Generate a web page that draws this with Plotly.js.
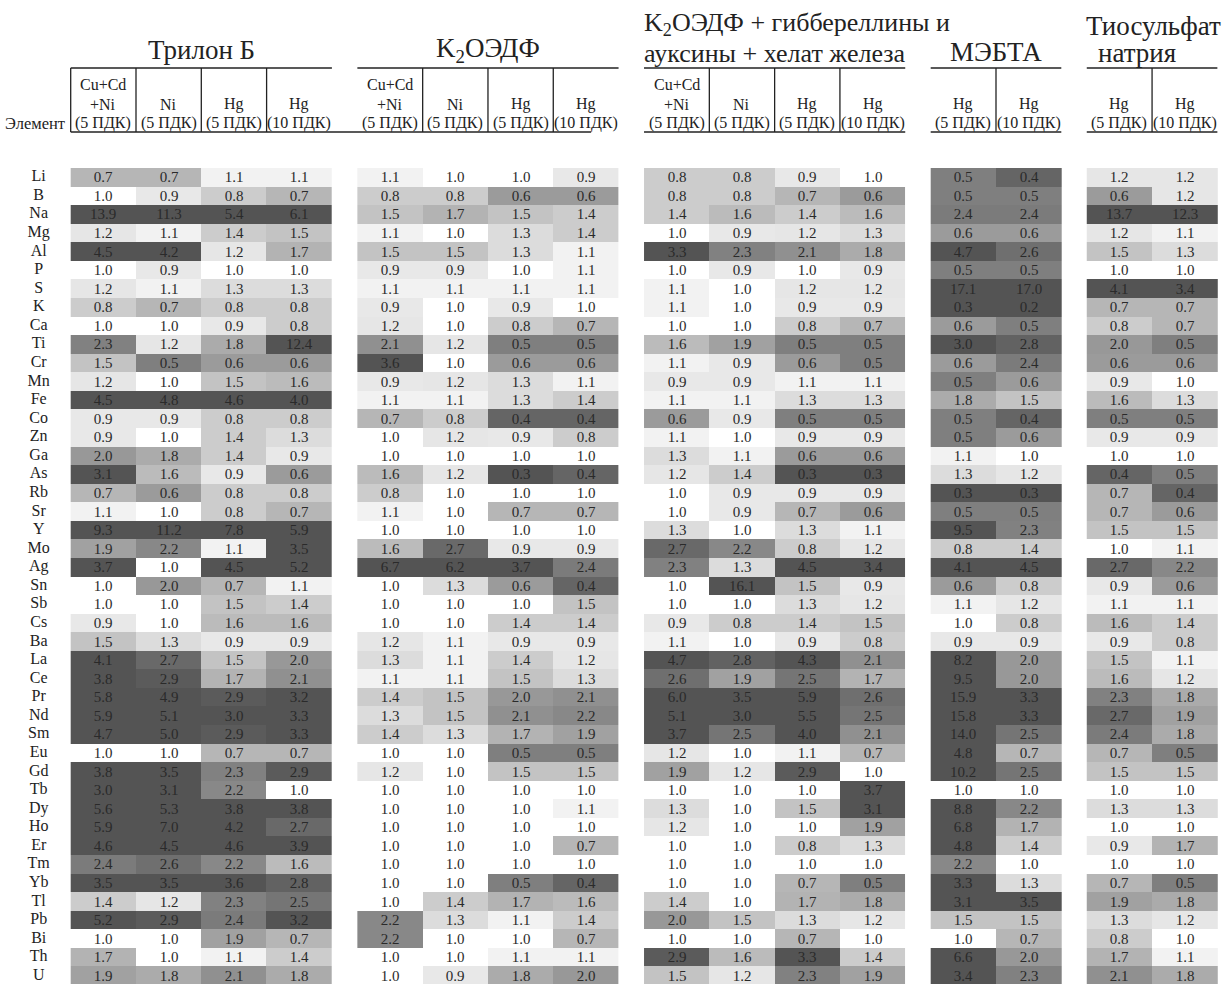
<!DOCTYPE html>
<html><head><meta charset="utf-8">
<script src="https://cdn.plot.ly/plotly-3.0.1.min.js"></script>
<style>html,body{margin:0;padding:0;background:#fff}</style>
</head><body><div id="chart" style="width:1223px;height:984px"></div>
<script>
const elements = ["Li","B","Na","Mg","Al","P","S","K","Ca","Ti","Cr","Mn","Fe","Co","Zn","Ga","As","Rb","Sr","Y","Mo","Ag","Sn","Sb","Cs","Ba","La","Ce","Pr","Nd","Sm","Eu","Gd","Tb","Dy","Ho","Er","Tm","Yb","Tl","Pb","Bi","Th","U"];

const groupTitles = [["Трилон Б"], ["K<sub>2</sub>ОЭДФ"], ["K<sub>2</sub>ОЭДФ + гиббереллины и", "ауксины + хелат железа"], ["МЭБТА"], ["Тиосульфат", "натрия"]];

const headTop = [["Cu+Cd","","",""],["Cu+Cd","","",""],["Cu+Cd","","",""],["",""],["",""]];
const headMid = [["+Ni","Ni","Hg","Hg"],["+Ni","Ni","Hg","Hg"],["+Ni","Ni","Hg","Hg"],["Hg","Hg"],["Hg","Hg"]];
const headBot = [["(5 ПДК)","(5 ПДК)","(5 ПДК)","(10 ПДК)"],["(5 ПДК)","(5 ПДК)","(5 ПДК)","(10 ПДК)"],["(5 ПДК)","(5 ПДК)","(5 ПДК)","(10 ПДК)"],["(5 ПДК)","(10 ПДК)"],["(5 ПДК)","(10 ПДК)"]];

const trilonB = [
[0.7,0.7,1.1,1.1],[1.0,0.9,0.8,0.7],[13.9,11.3,5.4,6.1],[1.2,1.1,1.4,1.5],[4.5,4.2,1.2,1.7],
[1.0,0.9,1.0,1.0],[1.2,1.1,1.3,1.3],[0.8,0.7,0.8,0.8],[1.0,1.0,0.9,0.8],[2.3,1.2,1.8,12.4],
[1.5,0.5,0.6,0.6],[1.2,1.0,1.5,1.6],[4.5,4.8,4.6,4.0],[0.9,0.9,0.8,0.8],[0.9,1.0,1.4,1.3],
[2.0,1.8,1.4,0.9],[3.1,1.6,0.9,0.6],[0.7,0.6,0.8,0.8],[1.1,1.0,0.8,0.7],[9.3,11.2,7.8,5.9],
[1.9,2.2,1.1,3.5],[3.7,1.0,4.5,5.2],[1.0,2.0,0.7,1.1],[1.0,1.0,1.5,1.4],[0.9,1.0,1.6,1.6],
[1.5,1.3,0.9,0.9],[4.1,2.7,1.5,2.0],[3.8,2.9,1.7,2.1],[5.8,4.9,2.9,3.2],[5.9,5.1,3.0,3.3],
[4.7,5.0,2.9,3.3],[1.0,1.0,0.7,0.7],[3.8,3.5,2.3,2.9],[3.0,3.1,2.2,1.0],[5.6,5.3,3.8,3.8],
[5.9,7.0,4.2,2.7],[4.6,4.5,4.6,3.9],[2.4,2.6,2.2,1.6],[3.5,3.5,3.6,2.8],[1.4,1.2,2.3,2.5],
[5.2,2.9,2.4,3.2],[1.0,1.0,1.9,0.7],[1.7,1.0,1.1,1.4],[1.9,1.8,2.1,1.8]];

const k2oedf = [
[1.1,1.0,1.0,0.9],[0.8,0.8,0.6,0.6],[1.5,1.7,1.5,1.4],[1.1,1.0,1.3,1.4],[1.5,1.5,1.3,1.1],
[0.9,0.9,1.0,1.1],[1.1,1.1,1.1,1.1],[0.9,1.0,0.9,1.0],[1.2,1.0,0.8,0.7],[2.1,1.2,0.5,0.5],
[3.6,1.0,0.6,0.6],[0.9,1.2,1.3,1.1],[1.1,1.1,1.3,1.4],[0.7,0.8,0.4,0.4],[1.0,1.2,0.9,0.8],
[1.0,1.0,1.0,1.0],[1.6,1.2,0.3,0.4],[0.8,1.0,1.0,1.0],[1.1,1.0,0.7,0.7],[1.0,1.0,1.0,1.0],
[1.6,2.7,0.9,0.9],[6.7,6.2,3.7,2.4],[1.0,1.3,0.6,0.4],[1.0,1.0,1.0,1.5],[1.0,1.0,1.4,1.4],
[1.2,1.1,0.9,0.9],[1.3,1.1,1.4,1.2],[1.1,1.1,1.5,1.3],[1.4,1.5,2.0,2.1],[1.3,1.5,2.1,2.2],
[1.4,1.3,1.7,1.9],[1.0,1.0,0.5,0.5],[1.2,1.0,1.5,1.5],[1.0,1.0,1.0,1.0],[1.0,1.0,1.0,1.1],
[1.0,1.0,1.0,1.0],[1.0,1.0,1.0,0.7],[1.0,1.0,1.0,1.0],[1.0,1.0,0.5,0.4],[1.0,1.4,1.7,1.6],
[2.2,1.3,1.1,1.4],[2.2,1.0,1.0,0.7],[1.0,1.0,1.1,1.1],[1.0,0.9,1.8,2.0]];

const k2oedfMix = [
[0.8,0.8,0.9,1.0],[0.8,0.8,0.7,0.6],[1.4,1.6,1.4,1.6],[1.0,0.9,1.2,1.3],[3.3,2.3,2.1,1.8],
[1.0,0.9,1.0,0.9],[1.1,1.0,1.2,1.2],[1.1,1.0,0.9,0.9],[1.0,1.0,0.8,0.7],[1.6,1.9,0.5,0.5],
[1.1,0.9,0.6,0.5],[0.9,0.9,1.1,1.1],[1.1,1.1,1.3,1.3],[0.6,0.9,0.5,0.5],[1.1,1.0,0.9,0.9],
[1.3,1.1,0.6,0.6],[1.2,1.4,0.3,0.3],[1.0,0.9,0.9,0.9],[1.0,0.9,0.7,0.6],[1.3,1.0,1.3,1.1],
[2.7,2.2,0.8,1.2],[2.3,1.3,4.5,3.4],[1.0,16.1,1.5,0.9],[1.0,1.0,1.3,1.2],[0.9,0.8,1.4,1.5],
[1.1,1.0,0.9,0.8],[4.7,2.8,4.3,2.1],[2.6,1.9,2.5,1.7],[6.0,3.5,5.9,2.6],[5.1,3.0,5.5,2.5],
[3.7,2.5,4.0,2.1],[1.2,1.0,1.1,0.7],[1.9,1.2,2.9,1.0],[1.0,1.0,1.0,3.7],[1.3,1.0,1.5,3.1],
[1.2,1.0,1.0,1.9],[1.0,1.0,0.8,1.3],[1.0,1.0,1.0,1.0],[1.0,1.0,0.7,0.5],[1.4,1.0,1.7,1.8],
[2.0,1.5,1.3,1.2],[1.0,1.0,0.7,1.0],[2.9,1.6,3.3,1.4],[1.5,1.2,2.3,1.9]];

const mebta = [
[0.5,0.4],[0.5,0.5],[2.4,2.4],[0.6,0.6],[4.7,2.6],[0.5,0.5],[17.1,17.0],[0.3,0.2],[0.6,0.5],[3.0,2.8],
[0.6,2.4],[0.5,0.6],[1.8,1.5],[0.5,0.4],[0.5,0.6],[1.1,1.0],[1.3,1.2],[0.3,0.3],[0.5,0.5],[9.5,2.3],
[0.8,1.4],[4.1,4.5],[0.6,0.8],[1.1,1.2],[1.0,0.8],[0.9,0.9],[8.2,2.0],[9.5,2.0],[15.9,3.3],[15.8,3.3],
[14.0,2.5],[4.8,0.7],[10.2,2.5],[1.0,1.0],[8.8,2.2],[6.8,1.7],[4.8,1.4],[2.2,1.0],[3.3,1.3],[3.1,3.5],
[1.5,1.5],[1.0,0.7],[6.6,2.0],[3.4,2.3]];

const thiosulfate = [
[1.2,1.2],[0.6,1.2],[13.7,12.3],[1.2,1.1],[1.5,1.3],[1.0,1.0],[4.1,3.4],[0.7,0.7],[0.8,0.7],[2.0,0.5],
[0.6,0.6],[0.9,1.0],[1.6,1.3],[0.5,0.5],[0.9,0.9],[1.0,1.0],[0.4,0.5],[0.7,0.4],[0.7,0.6],[1.5,1.5],
[1.0,1.1],[2.7,2.2],[0.9,0.6],[1.1,1.1],[1.6,1.4],[0.9,0.8],[1.5,1.1],[1.6,1.2],[2.3,1.8],[2.7,1.9],
[2.4,1.8],[0.7,0.5],[1.5,1.5],[1.0,1.0],[1.3,1.3],[1.0,1.0],[0.9,1.7],[1.0,1.0],[0.7,0.5],[1.9,1.8],
[1.3,1.2],[0.8,1.0],[1.7,1.1],[2.1,1.8]];

const groups = [trilonB, k2oedf, k2oedfMix, mebta, thiosulfate];

// ---- layout constants ----
const W = 1223, H = 984, MT = 168, MB = 0;
const GAP = 0.39;
const SERIF = "Liberation Serif, Times New Roman, serif";
const INK = "#222";
const py = px => (H - MB - px) / (H - MT - MB);   // pixel row -> paper y

function shade(v) {
  return v >= 1 ? Math.min(1, Math.log(v) / Math.log(3)) : Math.min(1, (1 - v) / 0.65);
}
const grayScale = [
  [0, "rgb(255,255,255)"], [0.09, "rgb(241,241,241)"], [0.24, "rgb(220,220,220)"],
  [0.31, "rgb(203,203,203)"], [0.46, "rgb(182,182,182)"], [0.54, "rgb(170,170,170)"],
  [0.63, "rgb(152,152,152)"], [0.72, "rgb(136,136,136)"], [0.8, "rgb(122,122,122)"],
  [0.9, "rgb(106,106,106)"], [1, "rgb(84,84,84)"]
];

const starts = [];
let acc = 0;
groups.forEach(g => { starts.push(acc); acc += g[0].length + GAP; });

const rowIdx = elements.map((_, i) => i);
const traces = [];
groups.forEach((g, gi) => {
  const n = g[0].length;
  traces.push({
    type: "heatmap",
    x: Array.from({length: n}, (_, i) => starts[gi] + i + 0.5),
    y: rowIdx,
    z: g.map(r => r.map(shade)),
    text: g.map(r => r.map(v => v.toFixed(1))),
    texttemplate: "%{text}",
    textfont: {family: SERIF, size: 15, color: "#2a2a2a"},
    colorscale: grayScale, zmin: 0, zmax: 1,
    showscale: false, hoverinfo: "skip", xgap: 0, ygap: 0
  });
});
traces.push({
  type: "scatter", mode: "text",
  x: elements.map(() => -0.49), y: rowIdx, text: elements,
  textfont: {family: SERIF, size: 16, color: INK},
  hoverinfo: "skip", showlegend: false
});

const annotations = [];
const shapes = [];
const lineStyle = {color: INK, width: 1.3};

// group titles (one entry per line: x position, anchor, pixel rows)
const titlePos = [
  {x: starts[0] + 2, ys: [50], anchor: "center", size: 27},
  {x: starts[1] + 2, ys: [50], anchor: "center", size: 27},
  {x: starts[2] - 0.03, ys: [24, 53], anchor: "left", size: 26},
  {x: starts[3] + 1, ys: [52], anchor: "center", size: 27},
  {x: starts[4] + 1, ys: [26, 53], anchor: "center", dx: [0.02, -0.23], size: 27}
];
groupTitles.forEach((lines, gi) => {
  const p = titlePos[gi];
  lines.forEach((t, li) => {
    annotations.push({
      text: t, xref: "x", yref: "paper", x: p.x + (p.dx ? p.dx[li] : 0), y: py(p.ys[li]),
      xanchor: p.anchor, yanchor: "middle",
      showarrow: false, font: {family: SERIF, size: p.size, color: INK}
    });
  });
});

// column headers
groups.forEach((g, gi) => {
  const n = g[0].length;
  for (let i = 0; i < n; i++) {
    const cx = starts[gi] + i + 0.5;
    [[headTop, 85], [headMid, 104], [headBot, 123]].forEach(([arr, ypx]) => {
      const t = arr[gi][i];
      if (t) annotations.push({
        text: t, xref: "x", yref: "paper", x: cx, y: py(ypx),
        xanchor: "center", yanchor: "middle", showarrow: false,
        font: {family: SERIF, size: 16, color: INK}
      });
    });
  }
  // top line under title
  shapes.push({type: "line", xref: "x", yref: "paper", x0: starts[gi], x1: starts[gi] + n, y0: py(68), y1: py(68), line: lineStyle});
  // vertical separators
  for (let i = (gi === 0 ? 0 : 1); i < n; i++) {
    shapes.push({type: "line", xref: "x", yref: "paper", x0: starts[gi] + i, x1: starts[gi] + i, y0: py(68), y1: py(132), line: lineStyle});
  }
  // bottom line
  if (gi === 0) {
    shapes.push({type: "line", xref: "x", yref: "paper", x0: 0, x1: starts[1] + 3.58, y0: py(132), y1: py(132), line: lineStyle});
  } else if (gi > 1) {
    shapes.push({type: "line", xref: "x", yref: "paper", x0: starts[gi], x1: starts[gi] + n, y0: py(132), y1: py(132), line: lineStyle});
  }
});
annotations.push({
  text: "Элемент", xref: "x", yref: "paper", x: -0.55, y: py(124),
  xanchor: "center", yanchor: "middle", showarrow: false,
  font: {family: SERIF, size: 16.5, color: INK}
});

const unit = 65.3, left0 = 70.7;
const layout = {
  width: W, height: H,
  margin: {l: 0, r: 0, t: MT, b: MB, pad: 0},
  paper_bgcolor: "#fff", plot_bgcolor: "#fff",
  showlegend: false,
  xaxis: {range: [-left0 / unit, (W - left0) / unit], showgrid: false, zeroline: false, showticklabels: false, ticks: "", showline: false, fixedrange: true},
  yaxis: {range: [(H - MT - MB) / 18.57 - 0.5, -0.5], showgrid: false, zeroline: false, showticklabels: false, ticks: "", showline: false, fixedrange: true},
  annotations: annotations,
  shapes: shapes
};
Plotly.newPlot("chart", traces, layout, {displayModeBar: false, staticPlot: true});
</script></body></html>
